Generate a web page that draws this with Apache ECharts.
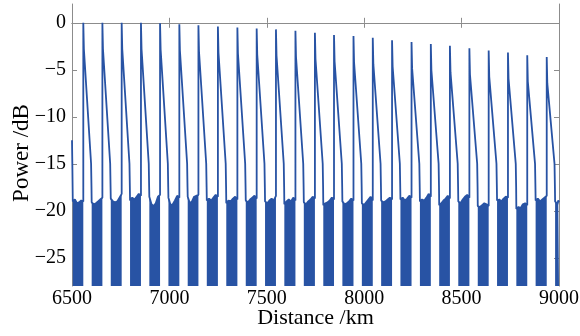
<!DOCTYPE html>
<html>
<head>
<meta charset="utf-8">
<script src="https://cdn.jsdelivr.net/npm/echarts@6/dist/echarts.min.js"></script>
<style>
  html, body {margin: 0; padding: 0; background: #fff;}
  #chart {width: 580px; height: 336px;}
</style>
</head>
<body>
<div id="chart"></div>
<script>
// spike positions (km) and spike heights (dB)
const peakKm = [6558, 6656, 6755, 6854, 6952, 7051, 7149, 7249, 7349, 7448,
  7547, 7647, 7747, 7845, 7945, 8044, 8143, 8243, 8342, 8440,
  8540, 8639, 8738, 8837, 8937];
const peakDb = [0, 0, 0, 0, -0.05, -0.15, -0.25, -0.4, -0.5, -0.6,
  -0.7, -0.85, -1.05, -1.3, -1.4, -1.6, -1.85, -2.05, -2.25, -2.45,
  -2.7, -2.95, -3.15, -3.45, -3.65];
// decay after each spike
const dropDb = 2.8;            // quick fall right after the spike
const tailKm = [3, 40, 42];    // offset from spike
const tailDb = [null, -15, -17.5];
const floorStartKm = 43;       // where the noise floor block begins
// trace before the first spike
const leadKm = [6500, 6502];
const leadDb = [-12.5, -15.5];
// top edge of each noise-floor block (26 blocks)
const floorTop = [
  [-19.0, -18.8, -19.2, -19.1, -18.9, -19.0],
  [-19.1, -19.3, -19.2, -19.0, -18.8, -18.6],
  [-18.7, -19.0, -19.1, -19.0, -18.6, -18.2],
  [-18.9, -18.6, -18.8, -18.5, -18.2, -18.4],
  [-18.5, -19.3, -19.5, -19.2, -18.5, -18.3],
  [-18.6, -19.4, -19.3, -18.9, -18.4, -18.6],
  [-18.5, -19.2, -19.0, -18.5, -18.4, -18.3],
  [-18.9, -18.7, -18.9, -18.6, -18.3, -18.5],
  [-19.2, -18.9, -19.0, -18.7, -18.5, -18.8],
  [-18.9, -19.1, -18.8, -18.6, -18.4, -18.7],
  [-19.0, -19.2, -18.9, -18.7, -18.9, -18.4],
  [-19.3, -19.0, -18.8, -19.0, -18.6, -18.9],
  [-19.1, -19.3, -19.0, -18.8, -18.5, -18.7],
  [-19.4, -19.2, -19.1, -18.9, -18.6, -18.8],
  [-19.0, -19.3, -19.2, -19.0, -18.7, -18.9],
  [-19.2, -19.4, -19.1, -18.8, -18.5, -18.9],
  [-18.9, -19.1, -19.0, -18.8, -18.6, -18.8],
  [-18.8, -18.6, -18.9, -18.7, -18.4, -18.6],
  [-19.0, -18.8, -18.9, -18.6, -18.2, -18.5],
  [-19.4, -19.2, -18.9, -18.7, -18.4, -18.7],
  [-19.0, -19.2, -18.8, -18.5, -18.3, -18.6],
  [-19.5, -19.6, -19.4, -19.2, -19.3, -19.5],
  [-18.9, -18.8, -19.0, -18.7, -18.5, -18.6],
  [-19.8, -19.6, -19.7, -19.3, -19.2, -19.4],
  [-18.9, -18.7, -19.0, -18.8, -18.6, -18.4],
  [-19.0, -19.2, -19.1, -19.3, -18.9, -19.1]
];
const xMin = 6500, xMax = 9000, xStep = 500;
const yMin = -28, yMax = 2;
const yTicks = [-25, -20, -15, -10, -5, 0];

const blue = '#2853a4';
const frame = '#8c8c8c';

// build the trace and the filled floor blocks
const trace = [];
const floor = [];
function addBlock(start, end, tops) {
  const n = tops.length;
  for (let k = 0; k < n; k++) {
    const x = start + (end - start) * k / (n - 1);
    trace.push([x, tops[k]]);
    floor.push([x, tops[k]]);
  }
  floor.push([end, null]);
}
leadKm.forEach((x, i) => trace.push([x, leadDb[i]]));
addBlock(leadKm[1] + 2, peakKm[0], floorTop[0]);
peakKm.forEach((x0, i) => {
  trace.push([x0, peakDb[i]]);
  trace.push([x0 + tailKm[0], peakDb[i] - dropDb]);
  for (let k = 1; k < tailKm.length; k++) trace.push([x0 + tailKm[k], tailDb[k]]);
  const end = i + 1 < peakKm.length ? peakKm[i + 1] : xMax;
  addBlock(x0 + floorStartKm, end, floorTop[i + 1]);
});

const font = 'Liberation Serif, Times New Roman, serif';
const minus = v => String(v).replace('-', '\u2212');

const chart = echarts.init(document.getElementById('chart'));
chart.setOption({
  animation: false,
  grid: {left: 72, right: 21, top: 4, bottom: 50, outerBoundsMode: 'none', containLabel: false},
  xAxis: [{
    type: 'value', min: xMin, max: xMax, interval: xStep,
    name: 'Distance /km', nameLocation: 'middle', nameGap: 21, nameMoveOverlap: false,
    nameTextStyle: {fontFamily: font, fontSize: 22, color: '#000'},
    axisLine: {lineStyle: {color: frame, width: 1}},
    axisTick: {inside: true, length: 5, lineStyle: {color: frame}},
    axisLabel: {fontFamily: font, fontSize: 20, color: '#000', margin: 3,
      formatter: v => String(v), hideOverlap: false},
    splitLine: {show: false}
  }, {
    type: 'value', position: 'top', min: xMin, max: xMax, interval: xStep,
    axisLine: {lineStyle: {color: frame, width: 1}},
    axisTick: {inside: true, length: 5, lineStyle: {color: frame}},
    axisLabel: {show: false},
    splitLine: {show: false}
  }],
  yAxis: [{
    type: 'value', min: yMin, max: yMax,
    name: 'Power /dB', nameLocation: 'middle', nameGap: 39, nameMoveOverlap: false,
    nameTextStyle: {fontFamily: font, fontSize: 23, color: '#000', padding: [0, 16, 0, 0]},
    axisLine: {show: true, lineStyle: {color: frame, width: 1}},
    axisTick: {show: true, inside: true, length: 5, customValues: yTicks, lineStyle: {color: frame}},
    axisLabel: {fontFamily: font, fontSize: 20, color: '#000', margin: 6,
      customValues: yTicks, formatter: minus},
    splitLine: {show: false}
  }, {
    type: 'value', position: 'right', min: yMin, max: yMax,
    axisLine: {show: true, lineStyle: {color: frame, width: 1}},
    axisTick: {show: true, inside: true, length: 5, customValues: yTicks, lineStyle: {color: frame}},
    axisLabel: {show: false},
    splitLine: {show: false}
  }],
  series: [{
    type: 'line', data: floor, symbol: 'none', connectNulls: false,
    lineStyle: {width: 0}, areaStyle: {color: blue, opacity: 1, origin: 'start'},
    silent: true, z: 2
  }, {
    type: 'line', data: trace, symbol: 'none',
    lineStyle: {color: blue, width: 1.8}, silent: true, z: 3
  }]
});
</script>
</body>
</html>
